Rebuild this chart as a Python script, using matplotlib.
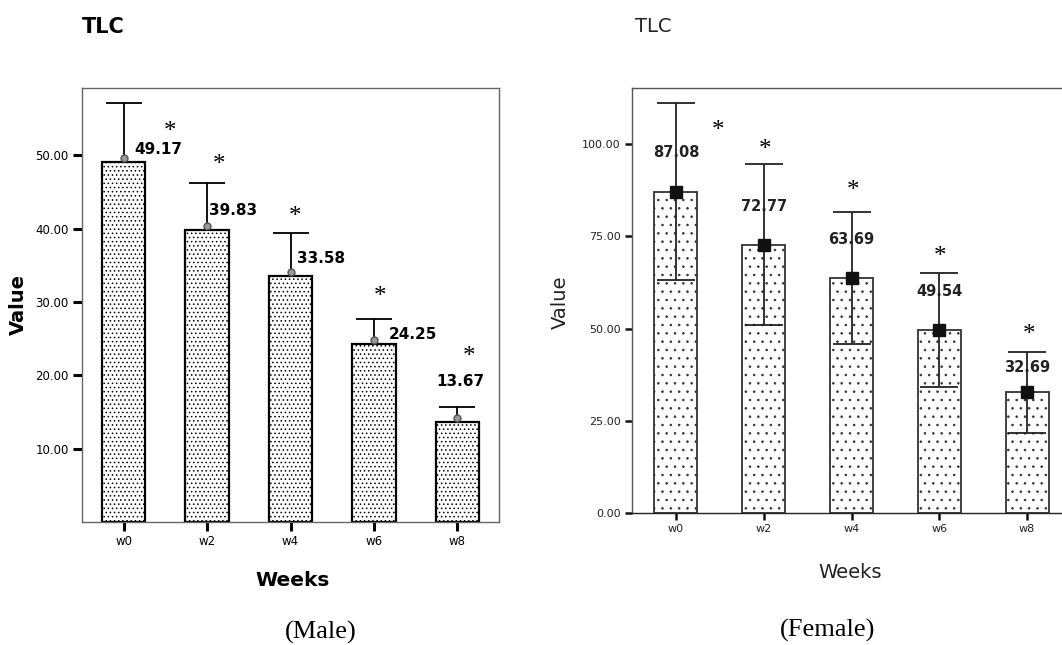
import numpy as np
import matplotlib
matplotlib.use('Agg')
import matplotlib.pyplot as plt
import matplotlib.transforms as mtransforms

weeks = ['w0', 'w2', 'w4', 'w6', 'w8']

# male: means and upper error
male_mean = [49.17, 39.83, 33.58, 24.25, 13.67]
male_err = [8.0, 6.4, 5.9, 3.4, 2.0]

# female: means and symmetric error
female_mean = [87.08, 72.77, 63.69, 49.54, 32.69]
female_err = [24.0, 21.8, 18.0, 15.4, 11.0]

# annotation placement (label y, star x offset, star y)
male_lab_dx = [0.13, 0.02, 0.08, 0.18, 0.04]
male_lab_y = [50.8, 42.5, 36.0, 25.6, 19.2]
male_star_dx = [0.56, 0.14, 0.06, 0.07, 0.14]
male_star_y = [53.6, 49.0, 42.0, 31.1, 22.9]

female_lab_y = [97.6, 83.2, 74.0, 60.0, 39.4]
female_star_dx = [0.48, 0.02, 0.02, 0.01, 0.02]
female_star_y = [104.3, 99.2, 88.0, 70.0, 48.9]

plt.rcParams['hatch.linewidth'] = 0.6
W, H = 1062, 645
fig = plt.figure(figsize=(W / 100, H / 100), dpi=100)

x = np.arange(len(weeks))

# ----- male -----
ax1 = fig.add_axes([82 / W, 1 - 522 / H, 417 / W, 434 / H])
ax1.bar(x, male_mean, width=0.52, color='white', edgecolor='black',
        linewidth=1.6, hatch='....', zorder=2)
ax1.errorbar(x, male_mean, yerr=[np.zeros(5), male_err], fmt='none',
             ecolor='black', elinewidth=1.3, capsize=13, capthick=1.3, zorder=3)
off = mtransforms.offset_copy(ax1.transData, fig=fig, y=4, units='dots')
ax1.plot(x, male_mean, 'o', ms=5, mfc='#999999', mec='#555555', mew=1,
         transform=off, zorder=4)
for i in range(5):
    ha = 'center' if i == 4 else 'left'
    ax1.text(x[i] + male_lab_dx[i], male_lab_y[i], f'{male_mean[i]:.2f}',
             ha=ha, va='center', fontsize=11, fontweight='bold', zorder=5)
    ax1.text(x[i] + male_star_dx[i], male_star_y[i], '*', ha='center',
             va='center_baseline', fontsize=18, family='Liberation Serif', zorder=5)
ax1.set_xlim(-0.5, 4.5)
ax1.set_ylim(0, 59.2)
ax1.set_yticks([10, 20, 30, 40, 50])
ax1.set_yticklabels(['10.00', '20.00', '30.00', '40.00', '50.00'])
ax1.set_xticks(x)
ax1.set_xticklabels(weeks)
ax1.tick_params(length=6.5, width=2.2, color='black', labelsize=8.5, pad=3)
for s in ax1.spines.values():
    s.set_color('#666666')
    s.set_linewidth(1)

fig.text(82 / W, 1 - 27 / H, 'TLC', fontsize=15, fontweight='bold',
         ha='left', va='center')
fig.text(18 / W, 1 - 305 / H, 'Value', fontsize=14, fontweight='bold',
         rotation=90, ha='center', va='center')
fig.text(293 / W, 1 - 580 / H, 'Weeks', fontsize=14.5, fontweight='bold',
         ha='center', va='center')
fig.text(321 / W, 1 - 632 / H, '(Male)', fontsize=19, family='Liberation Serif',
         ha='center', va='center')

# ----- female -----
ax2 = fig.add_axes([632 / W, 1 - 513 / H, 439 / W, 425 / H])
ax2.bar(x, female_mean, width=0.49, color='white', edgecolor='#333333',
        linewidth=1.3, hatch='..', zorder=2)
ax2.errorbar(x, female_mean, yerr=female_err, fmt='none', ecolor='#222222',
             elinewidth=1.3, capsize=14, capthick=1.3, zorder=3)
ax2.plot(x, female_mean, 's', ms=8.5, color='#111111', zorder=4)
for i in range(5):
    ax2.text(x[i], female_lab_y[i], f'{female_mean[i]:.2f}', ha='center',
             va='center', fontsize=10.5, fontweight='bold', color='#222222', zorder=5)
    ax2.text(x[i] + female_star_dx[i], female_star_y[i], '*', ha='center',
             va='center_baseline', fontsize=18, family='Liberation Serif', zorder=5)
ax2.set_xlim(-0.5, 4.5)
ax2.set_ylim(0, 115.2)
ax2.set_yticks([0, 25, 50, 75, 100])
ax2.set_yticklabels(['0.00', '25.00', '50.00', '75.00', '100.00'])
ax2.set_xticks(x)
ax2.set_xticklabels(weeks)
ax2.tick_params(length=5, width=1.8, color='#111111', labelsize=8,
                labelcolor='#222222', pad=3)
for s in ax2.spines.values():
    s.set_color('#555555')
    s.set_linewidth(1)
ax2.spines['bottom'].set_color('#222222')

fig.text(635 / W, 1 - 27 / H, 'TLC', fontsize=14, color='#222222',
         ha='left', va='center')
fig.text(560 / W, 1 - 302 / H, 'Value', fontsize=14, color='#222222',
         rotation=90, ha='center', va='center')
fig.text(850 / W, 1 - 573 / H, 'Weeks', fontsize=14, color='#222222',
         ha='center', va='center')
fig.text(828 / W, 1 - 630 / H, '(Female)', fontsize=19, family='Liberation Serif',
         ha='center', va='center')

fig.savefig('out.png', dpi=100, facecolor='white')
